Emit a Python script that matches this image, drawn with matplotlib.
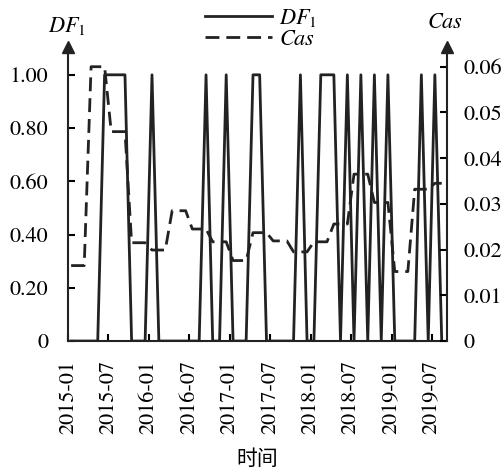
import matplotlib.pyplot as plt
import matplotlib.dates as mdates
import pandas as pd

plt.rcParams['font.family'] = 'serif'
plt.rcParams['font.serif'] = ['STIXGeneral', 'Liberation Serif']
plt.rcParams['mathtext.fontset'] = 'stix'

# 月度数据 2015-01 ~ 2019-08
months = pd.date_range('2015-01-01', periods=56, freq='MS') + pd.Timedelta(days=14)

df1 = [0, 0, 0, 0, 0, 1, 1, 1, 1, 0, 0, 0, 1, 0, 0, 0, 0, 0, 0, 0,
       1, 0, 0, 1, 0, 0, 0, 1, 1, 0, 0, 0, 0, 0, 1, 0, 0, 1, 1, 1,
       0, 1, 0, 1, 0, 1, 0, 1, 0, 0, 0, 0, 1, 0, 1, 0]

cas = [0.0165, 0.0165, 0.0165, 0.0600, 0.0600, 0.0600, 0.0458, 0.0458,
       0.0458, 0.0215, 0.0215, 0.0215, 0.0199, 0.0199, 0.0199, 0.0285,
       0.0285, 0.0285, 0.0245, 0.0245, 0.0245, 0.0217, 0.0217, 0.0217,
       0.0176, 0.0176, 0.0176, 0.0237, 0.0237, 0.0237, 0.0219, 0.0219,
       0.0219, 0.0195, 0.0195, 0.0195, 0.0217, 0.0217, 0.0217, 0.0256,
       0.0256, 0.0256, 0.0365, 0.0365, 0.0365, 0.0303, 0.0303, 0.0303,
       0.0152, 0.0152, 0.0152, 0.0332, 0.0332, 0.0332, 0.0345, 0.0345]

left_ticks = [0, 0.2, 0.4, 0.6, 0.8, 1.0]
left_labels = ['0', '0.20', '0.40', '0.60', '0.80', '1.00']
right_ticks = [0, 0.01, 0.02, 0.03, 0.04, 0.05, 0.06]
right_labels = ['0', '0.01', '0.02', '0.03', '0.04', '0.05', '0.06']
xtick_dates = pd.date_range('2015-01-01', '2019-07-01', freq='6MS')

fig = plt.figure(figsize=(5.04, 4.72), dpi=100)
ax = fig.add_axes([0.135, 0.2775, 0.752, 0.617])
ax2 = ax.twinx()

lc = '#222222'
l1, = ax.plot(months, df1, color=lc, lw=2.0, label=r'$DF_1$')
l2, = ax2.plot(months, cas, color=lc, lw=2.0, dashes=(5, 2.5), label=r'$Cas$')

ax.set_ylim(0, 1.094)
ax2.set_ylim(0, 0.0637)
ax.set_xlim(pd.Timestamp('2015-01-01'), pd.Timestamp('2019-09-08'))

ax.set_yticks(left_ticks)
ax.set_yticklabels(left_labels)
ax2.set_yticks(right_ticks)
ax2.set_yticklabels(right_labels)
ax.set_xticks(xtick_dates)
ax.xaxis.set_major_formatter(mdates.DateFormatter('%Y-%m'))

for a in (ax, ax2):
    a.spines['top'].set_visible(False)
    for s in a.spines.values():
        s.set_linewidth(1.5)
        s.set_color(lc)
ax.spines['right'].set_visible(False)
ax2.spines['left'].set_visible(False)
ax2.spines['bottom'].set_visible(False)

ax.tick_params(axis='y', direction='in', length=5, width=1.5, labelsize=16, pad=14)
ax.tick_params(axis='x', direction='in', length=5, width=1.5, labelsize=16,
               rotation=90, pad=14)
ax2.tick_params(axis='y', direction='in', length=5, width=1.5, labelsize=16, pad=12)

# 坐标轴箭头
ax.plot(0, 1.01, marker='^', color=lc, ms=8, transform=ax.transAxes, clip_on=False)
ax.plot(1, 1.01, marker='^', color=lc, ms=8, transform=ax.transAxes, clip_on=False)

fig.text(0.133, 0.945, r'$DF_1$', fontsize=16, ha='center', va='center')
fig.text(0.884, 0.952, r'$Cas$', fontsize=16, ha='center', va='center')
ax.set_xlabel('时间', fontsize=15, family=['Noto Sans CJK SC'], labelpad=10)

fig.legend([l1, l2], [r'$DF_1$', r'$Cas$'], loc='upper left',
           bbox_to_anchor=(0.39, 1.005), frameon=False, fontsize=16,
           handlelength=3.0, handletextpad=0.3, labelspacing=0.05,
           borderaxespad=0)

fig.savefig('out.png', dpi=100)
